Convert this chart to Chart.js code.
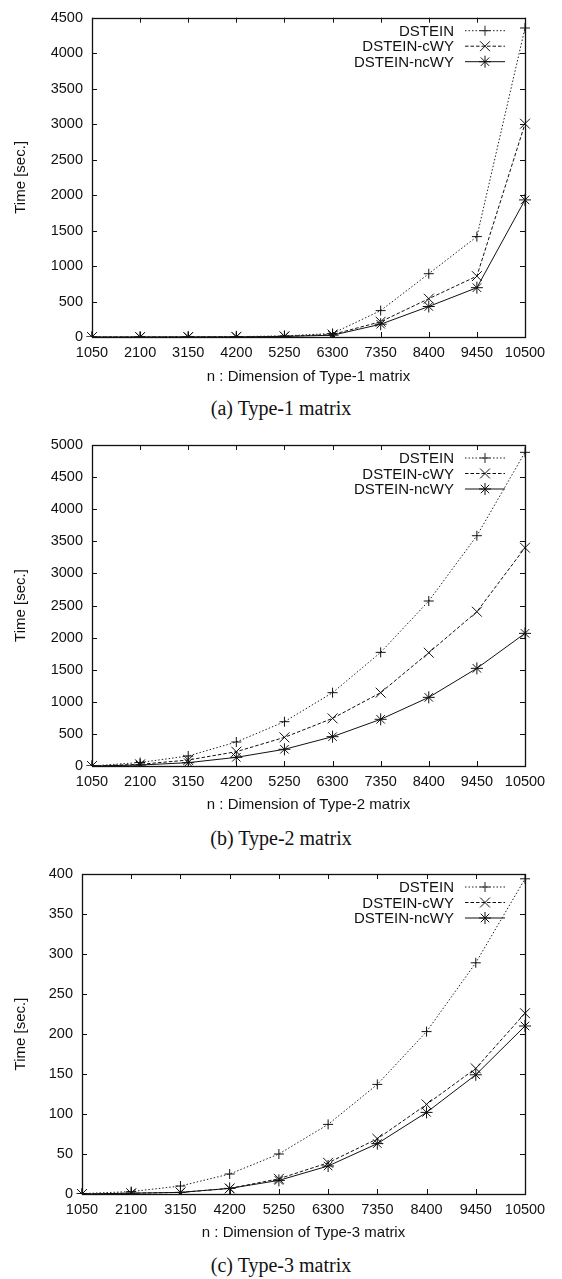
<!DOCTYPE html>
<html>
<head>
<meta charset="utf-8">
<script src="https://cdn.jsdelivr.net/npm/chart.js@4.4.1/dist/chart.umd.min.js"></script>
<style>
  body { margin: 0; background: #fff; }
  #page { position: relative; width: 562px; height: 1279px; background: #fff; }
  .plot { position: absolute; left: 0; }
  .caption { position: absolute; width: 562px; left: 0; text-align: center;
             font-family: "Liberation Serif", "Times New Roman", serif; font-size: 20px;
             line-height: 20px; color: #111; }
</style>
</head>
<body>
<div id="page">
  <canvas id="chart1" class="plot" width="562" height="386" style="top:0px"></canvas>
  <div class="caption" style="top:398px">(a) Type-1 matrix</div>
  <canvas id="chart2" class="plot" width="562" height="394" style="top:420px"></canvas>
  <div class="caption" style="top:828px">(b) Type-2 matrix</div>
  <canvas id="chart3" class="plot" width="562" height="392" style="top:850px"></canvas>
  <div class="caption" style="top:1255px">(c) Type-3 matrix</div>
</div>
<script>
const nValues = ["1050","2100","3150","4200","5250","6300","7350","8400","9450","10500"]
const seriesNames = ["DSTEIN", "DSTEIN-cWY", "DSTEIN-ncWY"]

// Type-1
const type1Dstein = [0, 1, 2, 5, 15, 50, 372, 892, 1415, 4355]
const type1Cwy    = [0, 0, 1, 3, 10, 35, 215, 540, 858, 3006]
const type1Ncwy   = [0, 0, 1, 2, 8, 25, 180, 430, 695, 1932]

// Type-2
const type2Dstein = [0, 55, 156, 374, 690, 1142, 1770, 2570, 3587, 4886]
const type2Cwy    = [0, 26, 93, 223, 446, 742, 1142, 1765, 2403, 3400]
const type2Ncwy   = [0, 15, 52, 135, 260, 457, 727, 1069, 1521, 2066]

// Type-3
const type3Dstein = [0.5, 3, 10, 25, 50, 87, 137, 203, 289, 394]
const type3Cwy    = [0, 1, 2, 7, 19, 39, 69, 112, 157, 226]
const type3Ncwy   = [0, 1, 2, 7, 17, 35, 63, 102, 149, 210]

const yMax1 = 4500, yStep1 = 500
const yMax2 = 5000, yStep2 = 500
const yMax3 = 400, yStep3 = 50

const fontFamily = '"Liberation Sans", Arial, Helvetica, sans-serif'
const ink = '#111'

// gnuplot-like border with inward ticks on all four sides
const framePlugin = {
    id: 'frame',
    beforeDatasetsDraw(chart) {
        const ctx = chart.ctx
        const a = chart.chartArea
        const xs = chart.scales.x, ys = chart.scales.y
        ctx.save()
        ctx.strokeStyle = ink
        ctx.lineWidth = 1
        ctx.beginPath()
        xs.ticks.forEach((t, i) => {
            const px = Math.round(xs.getPixelForTick(i)) + 0.5
            ctx.moveTo(px, a.bottom); ctx.lineTo(px, a.bottom - 5)
            ctx.moveTo(px, a.top); ctx.lineTo(px, a.top + 5)
        })
        ys.ticks.forEach((t, i) => {
            const py = Math.round(ys.getPixelForTick(i)) + 0.5
            ctx.moveTo(a.left, py); ctx.lineTo(a.left + 5, py)
            ctx.moveTo(a.right, py); ctx.lineTo(a.right - 5, py)
        })
        ctx.stroke()
        ctx.lineWidth = 1.3
        ctx.strokeRect(Math.round(a.left) + 0.5, Math.round(a.top) + 0.5,
                       Math.round(a.right - a.left), Math.round(a.bottom - a.top))
        ctx.restore()
    }
}

// legend in the top right corner: text, then line sample with its marker
const keyPlugin = {
    id: 'key',
    afterDatasetsDraw(chart) {
        const ctx = chart.ctx
        const a = chart.chartArea
        ctx.save()
        ctx.font = '15px ' + fontFamily
        ctx.textAlign = 'right'
        ctx.textBaseline = 'middle'
        chart.data.datasets.forEach((ds, i) => {
            const y = a.top + 13 + i * 15.5
            ctx.fillStyle = ink
            ctx.fillText(ds.label, a.right - 71, y + 1)
            ctx.strokeStyle = ds.borderColor
            ctx.lineWidth = ds.borderWidth
            ctx.setLineDash(ds.borderDash || [])
            ctx.beginPath()
            ctx.moveTo(a.right - 60, y); ctx.lineTo(a.right - 20, y)
            ctx.stroke()
            ctx.setLineDash([])
            Chart.helpers.drawPoint(ctx, {
                pointStyle: ds.pointStyle, radius: ds.pointRadius,
                rotation: 0, borderWidth: 1
            }, a.right - 40, y)
        })
        ctx.restore()
    }
}

function makeChart(id, title, d1, d2, d3, yMax, yStep, yWidth, padTop, xHeight) {
    return new Chart(id, {
        type: 'line',
        data: {
            labels: nValues,
            datasets: [{
                label: seriesNames[0], data: d1,
                borderColor: '#222', borderWidth: 1, borderDash: [1.5, 2],
                pointStyle: 'cross', pointRadius: 5,
                pointBorderColor: '#111', pointBorderWidth: 1, pointBackgroundColor: '#111'
            }, {
                label: seriesNames[1], data: d2,
                borderColor: '#111', borderWidth: 1, borderDash: [3.5, 2],
                pointStyle: 'crossRot', pointRadius: 7,
                pointBorderColor: '#111', pointBorderWidth: 1, pointBackgroundColor: '#111'
            }, {
                label: seriesNames[2], data: d3,
                borderColor: '#111', borderWidth: 1,
                pointStyle: 'star', pointRadius: 6,
                pointBorderColor: '#111', pointBorderWidth: 1, pointBackgroundColor: '#111'
            }]
        },
        options: {
            responsive: false,
            animation: false,
            devicePixelRatio: 1,
            layout: { padding: { top: padTop, left: 12, right: 37, bottom: 0 } },
            plugins: { legend: { display: false }, tooltip: { enabled: false } },
            elements: { line: { tension: 0 } },
            scales: {
                x: {
                    offset: false,
                    grid: { display: false, drawTicks: false },
                    border: { display: false },
                    ticks: { color: ink, font: { family: fontFamily, size: 14.5 }, padding: 7, maxRotation: 0, autoSkip: false },
                    title: { display: true, text: title, color: ink, padding: 0,
                             font: { family: fontFamily, size: 15 } },
                    afterFit: (s) => { s.height = xHeight }
                },
                y: {
                    min: 0, max: yMax,
                    grid: { display: false, drawTicks: false },
                    border: { display: false },
                    ticks: { stepSize: yStep, color: ink, font: { family: fontFamily, size: 14.5 }, padding: 9,
                             callback: (v) => String(v) },
                    title: { display: true, text: 'Time [sec.]', color: ink, padding: 0,
                             font: { family: fontFamily, size: 15 } },
                    afterFit: (s) => { s.width = yWidth }
                }
            }
        },
        plugins: [framePlugin, keyPlugin]
    })
}

makeChart('chart1', 'n : Dimension of Type-1 matrix', type1Dstein, type1Cwy, type1Ncwy, yMax1, yStep1, 80, 16, 49)
makeChart('chart2', 'n : Dimension of Type-2 matrix', type2Dstein, type2Cwy, type2Ncwy, yMax2, yStep2, 80, 25, 48)
makeChart('chart3', 'n : Dimension of Type-3 matrix', type3Dstein, type3Cwy, type3Ncwy, yMax3, yStep3, 70, 24, 48)
</script>
</body>
</html>
